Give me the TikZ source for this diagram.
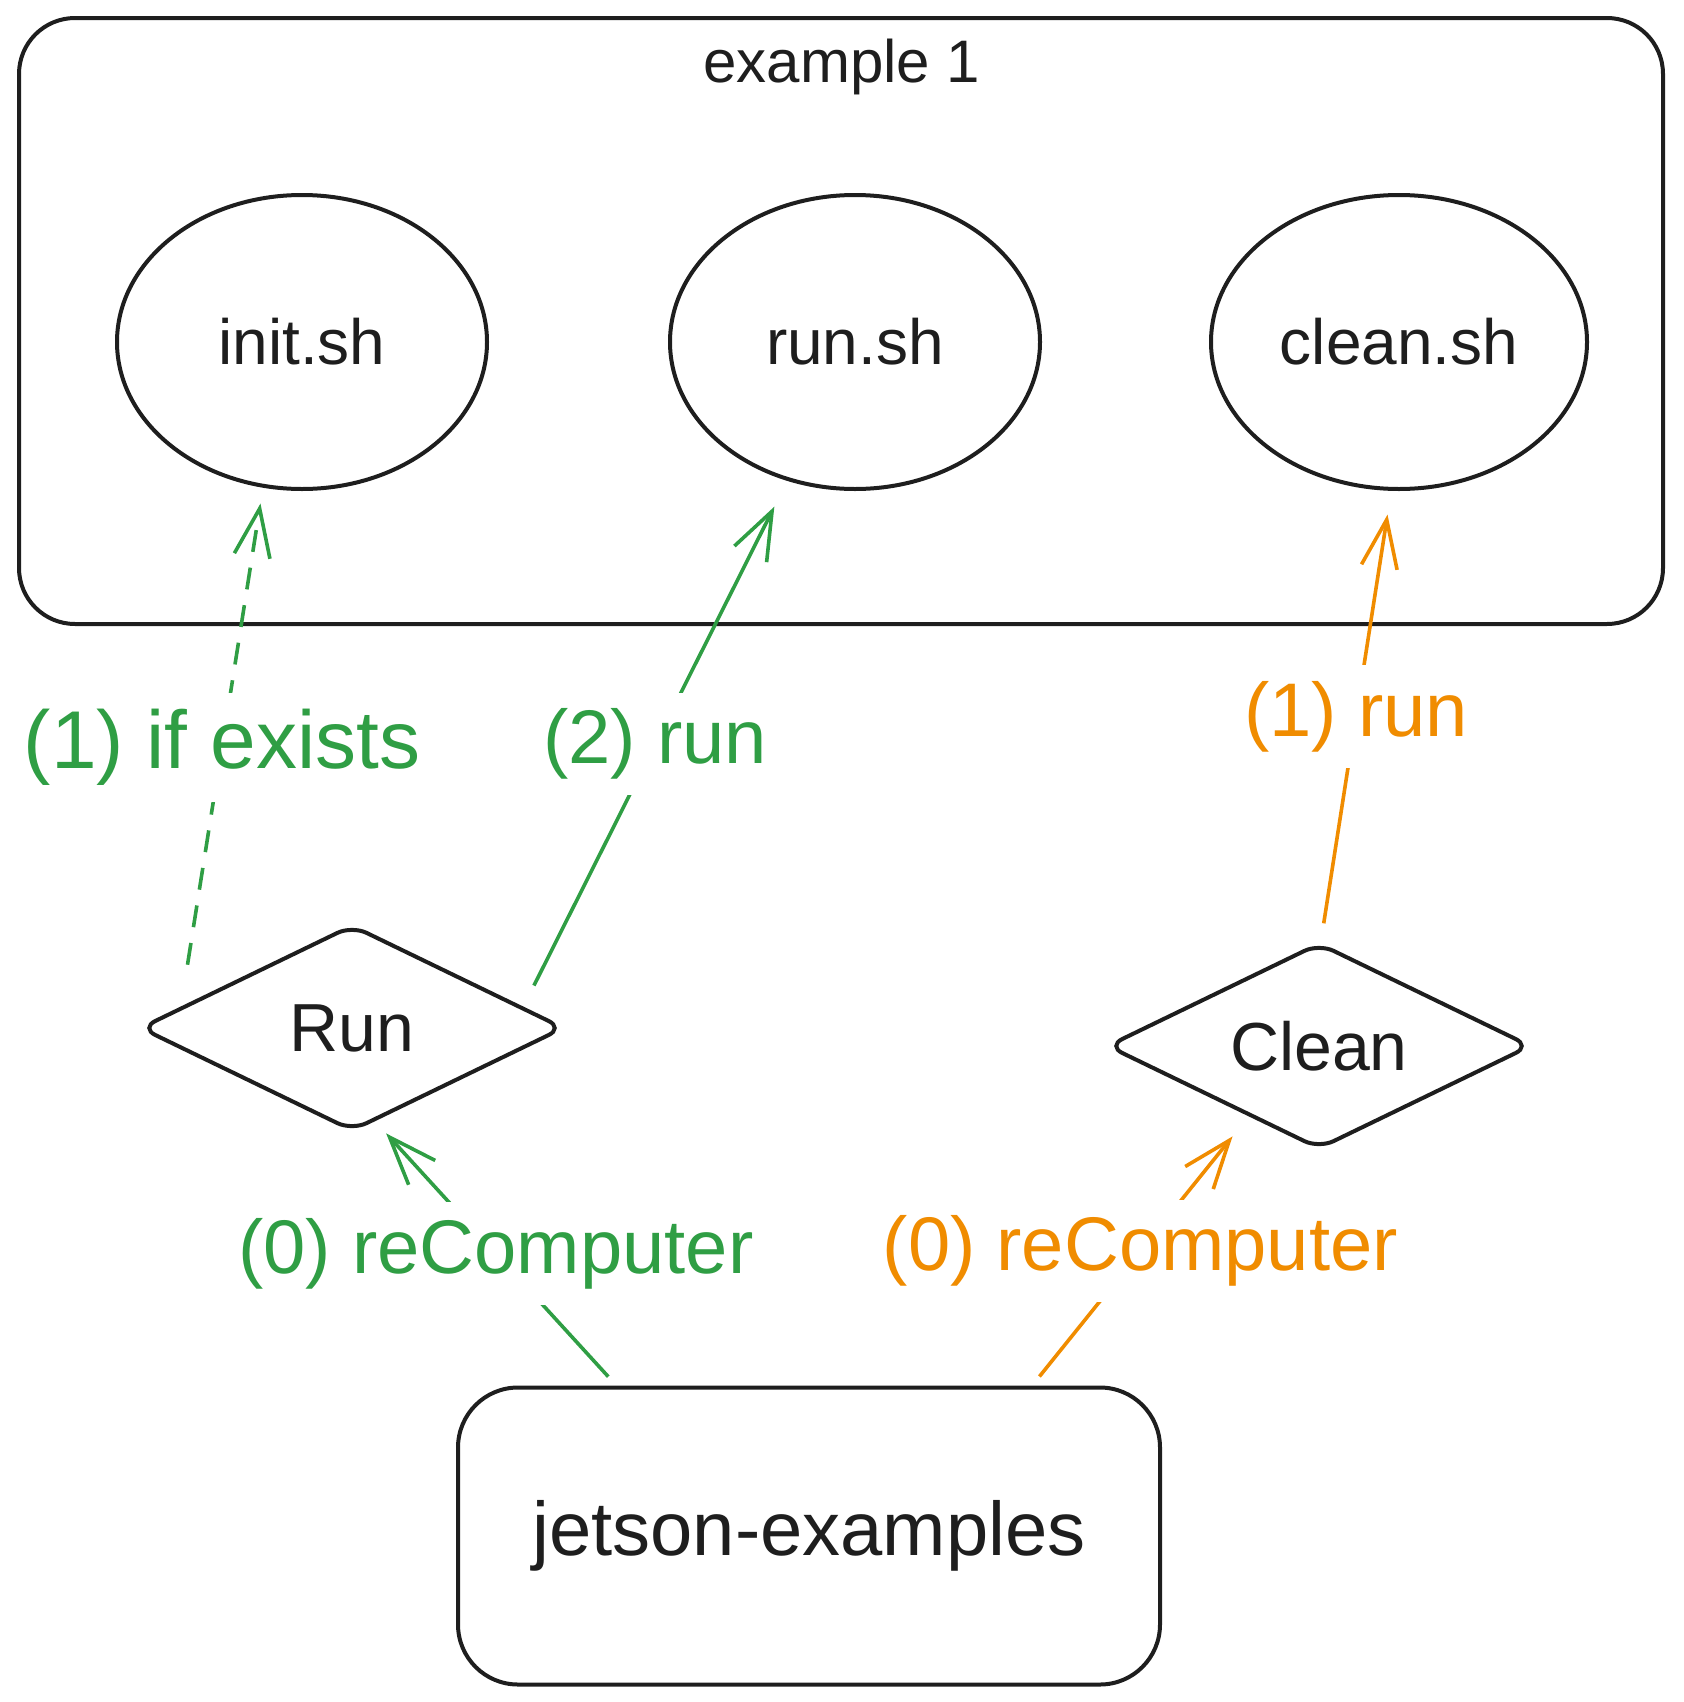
\documentclass[tikz,border=0pt]{standalone}
\usepackage{fontspec}
\setmainfont{Liberation Sans}
\usepackage{tikz}
\usetikzlibrary{arrows.meta}
\usetikzlibrary{shapes.geometric}
\definecolor{ink}{HTML}{1E1E1E}
\definecolor{rungreen}{HTML}{2F9E44}
\definecolor{cleanorange}{HTML}{F08C00}
\tikzset{
	script/.style={draw=ink, line width=1pt, ellipse, minimum width=92.5pt, minimum height=73.5pt, text=ink, font=\fontsize{16}{19}\selectfont},
	choice/.style={draw=ink, line width=1pt, diamond, aspect=2.06, inner sep=2pt, minimum width=106pt, minimum height=51.5pt, rounded corners=4pt, text=ink, font=\fontsize{17}{20}\selectfont},
	flow/.style={line width=0.9pt, -{Straight Barb[length=12pt,width=9pt]}},
	tag/.style={fill=white, inner sep=4pt, font=\fontsize{19}{22}\selectfont}
}
\begin{document}
\begin{tikzpicture}[x=0.25pt, y=-0.25pt]
	\useasboundingbox (0,0) rectangle (1683,1702);
	\node[draw=ink, line width=1pt, rounded corners=14pt, minimum width=411pt, minimum height=151.5pt] (frame) at (841,321) {};
	\node[text=ink, font=\fontsize{15}{18}\selectfont] (title) at (842,67) {example 1};
	\foreach \n/\x/\w/\t in {initsh/302/92.5pt/init.sh, runsh/855/92.5pt/run.sh, cleansh/1399/94pt/clean.sh} {
		\node[script, minimum width=\w] (\n) at (\x,342) {\t};
	}
	\node[choice] (run) at (352,1028) {Run};
	\node[choice] (clean) at (1319,1046) {Clean};
	\node[draw=ink, line width=1pt, rounded corners=15pt, minimum width=175.5pt, minimum height=74.25pt, text=ink, font=\fontsize{19}{22}\selectfont] (jetson) at (809,1536) {jetson-examples};
	\draw[flow, rungreen, dash pattern=on 5.5pt off 4pt, shorten <=10.7pt, shorten >=4pt] (run.173) -- node[tag, font=\fontsize{20.5}{24}\selectfont] {(1) if exists} (initsh.255);
	\draw[flow, rungreen, shorten <=6pt, shorten >=7.2pt] (run.7) -- node[tag] {(2) run} (runsh.244);
	\draw[flow, cleanorange, shorten <=4.7pt, shorten >=6pt] (clean.89) -- node[tag] {(1) run} (cleansh.267);
	\draw[flow, rungreen, shorten <=3pt, shorten >=4pt] (jetson.142) -- node[tag] {(0) reComputer} (run.284);
	\draw[flow, cleanorange, shorten <=2.9pt, shorten >=6.4pt] (jetson.34) -- node[tag] {(0) reComputer} (clean.225);
\end{tikzpicture}
\end{document}
